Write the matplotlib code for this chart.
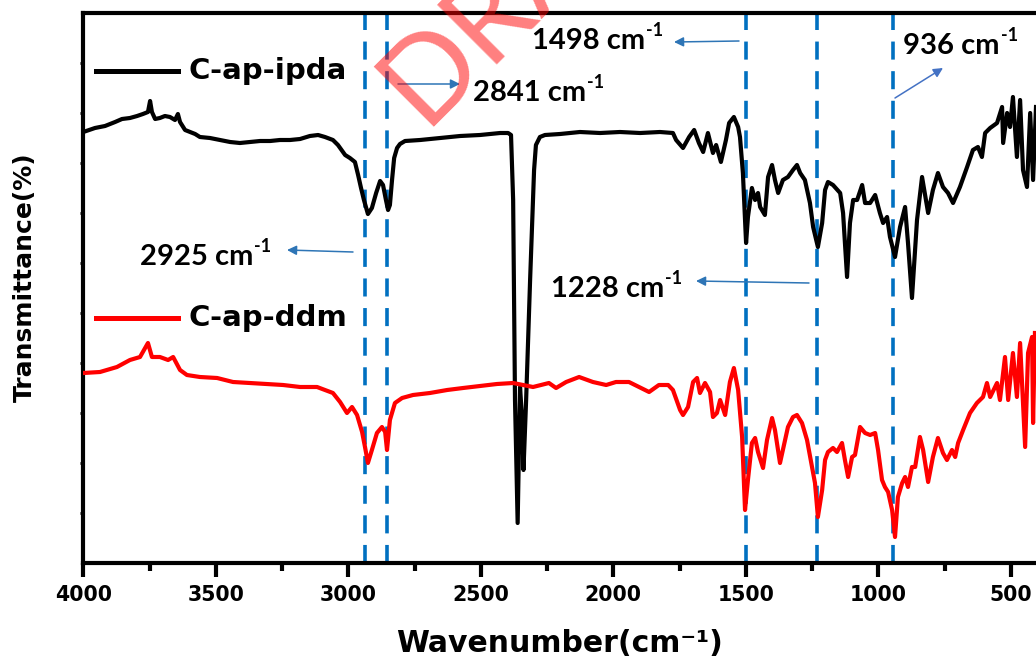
import matplotlib
matplotlib.use("Agg")
import matplotlib.pyplot as plt
from matplotlib.lines import Line2D

# ---------------- data ----------------
wn_ipda = [4000, 3956, 3918, 3880, 3854, 3824, 3797, 3775, 3756, 3748, 3741, 3729, 3711, 3692,
           3673, 3654, 3643, 3635, 3616, 3597, 3578, 3560, 3522, 3484, 3446, 3409, 3371, 3333,
           3295, 3258, 3220, 3182, 3145, 3114, 3088, 3058, 3039, 3012, 2994, 2975, 2963, 2952,
           2941, 2926, 2911, 2895, 2880, 2869, 2858, 2850, 2843, 2835, 2827, 2816, 2805, 2786,
           2729, 2654, 2578, 2503, 2427, 2397, 2386, 2378, 2371, 2361, 2356, 2352, 2344, 2339,
           2329, 2314, 2299, 2292, 2277, 2258, 2201, 2126, 2050, 1975, 1899, 1824, 1775, 1763,
           1737, 1714, 1695, 1677, 1661, 1643, 1624, 1612, 1594, 1575, 1563, 1545, 1529, 1522,
           1511, 1499, 1492, 1477, 1465, 1454, 1446, 1428, 1416, 1401, 1390, 1378, 1360, 1341,
           1322, 1307, 1295, 1277, 1258, 1246, 1228, 1212, 1201, 1190, 1171, 1144, 1133, 1118,
           1107, 1095, 1080, 1061, 1050, 1031, 1012, 994, 982, 967, 956, 937, 918, 899, 888,
           873, 854, 835, 812, 794, 775, 756, 737, 718, 692, 665, 643, 624, 609, 597, 578, 552,
           533, 529, 514, 503, 492, 477, 465, 454, 439, 427, 416, 405]
t_ipda = [86.2, 87.0, 87.4, 88.2, 88.8, 89.0, 89.4, 89.8, 90.2, 92.4, 90.2, 88.8, 89.0, 89.4,
          89.2, 88.6, 89.8, 88.2, 86.6, 86.2, 85.8, 85.2, 85.0, 84.6, 84.2, 84.0, 84.2, 84.4,
          84.4, 84.6, 84.6, 84.8, 85.4, 85.6, 85.2, 84.6, 83.6, 81.6, 81.0, 80.2, 77.6, 75.0,
          72.6, 69.8, 71.0, 74.0, 76.4, 75.6, 72.6, 70.6, 71.6, 76.6, 81.0, 83.0, 83.8, 84.4,
          84.6, 85.0, 85.4, 85.6, 86.0, 86.0, 85.6, 72.6, 32.6, 8.0, 22.6, 35.2, 28.6, 18.6,
          32.6, 56.6, 78.6, 83.6, 85.2, 85.6, 85.8, 86.2, 86.0, 86.2, 86.0, 86.2, 86.0, 84.6,
          83.0, 85.2, 86.6, 84.0, 82.2, 86.0, 82.0, 83.6, 80.2, 84.6, 88.0, 89.2, 87.2, 85.2,
          78.0, 64.0, 69.2, 75.0, 72.6, 74.0, 71.2, 69.6, 77.2, 79.6, 76.6, 74.0, 76.6, 77.2,
          78.6, 79.6, 78.0, 76.6, 72.0, 67.2, 63.2, 68.0, 74.6, 76.2, 75.6, 74.0, 70.0, 57.2,
          68.0, 72.6, 72.6, 75.6, 72.0, 72.0, 73.6, 70.0, 68.0, 69.2, 65.2, 61.2, 67.2, 71.2, 64.0,
          53.0, 68.6, 77.2, 70.0, 74.6, 78.0, 75.2, 74.0, 72.0, 75.2, 79.2, 82.6, 83.2, 81.2, 86.0,
          87.0, 88.0, 91.2, 84.0, 90.0, 87.2, 93.2, 81.2, 92.6, 78.6, 75.2, 90.0, 76.6, 91.2]

wn_ddm = [4000, 3937, 3873, 3824, 3786, 3756, 3741, 3711, 3680, 3661, 3635, 3609, 3560, 3495,
          3435, 3371, 3307, 3246, 3182, 3118, 3058, 3031, 3005, 2986, 2967, 2948, 2937, 2926,
          2911, 2892, 2873, 2861, 2854, 2843, 2824, 2797, 2756, 2692, 2627, 2567, 2503, 2439,
          2378, 2303, 2243, 2216, 2178, 2129, 2077, 2027, 1990, 1941, 1903, 1865, 1828, 1793,
          1775, 1748, 1737, 1718, 1699, 1684, 1673, 1654, 1635, 1624, 1609, 1597, 1578, 1560,
          1545, 1529, 1514, 1503, 1492, 1477, 1465, 1454, 1435, 1420, 1401, 1390, 1371, 1352,
          1341, 1322, 1307, 1288, 1269, 1250, 1239, 1228, 1212, 1201, 1190, 1171, 1156, 1137,
          1126, 1114, 1099, 1088, 1069, 1050, 1031, 1012, 1001, 986, 975, 963, 948, 937, 926,
          910, 899, 888, 873, 861, 843, 831, 812, 794, 775, 756, 741, 722, 710, 699, 680, 654,
          628, 605, 590, 578, 552, 541, 522, 510, 492, 477, 465, 446, 435, 420, 416, 409]
t_ddm = [38.0, 38.2, 39.2, 40.6, 41.2, 44.0, 41.2, 41.2, 40.6, 41.2, 38.6, 37.6, 37.2, 37.0,
         36.2, 36.0, 35.8, 35.6, 35.2, 35.2, 34.0, 32.2, 30.0, 31.2, 29.6, 26.2, 23.2, 20.0,
         22.6, 26.0, 27.2, 26.2, 22.6, 28.6, 32.0, 33.0, 33.6, 34.0, 34.6, 35.0, 35.4, 35.8,
         36.0, 35.2, 36.0, 35.0, 36.2, 37.2, 36.2, 35.6, 36.2, 36.2, 35.2, 34.2, 35.6, 35.6,
         34.6, 30.6, 29.6, 31.2, 36.2, 37.0, 34.0, 36.0, 34.2, 29.2, 30.0, 32.6, 29.6, 36.2,
         39.0, 34.6, 25.2, 10.6, 16.6, 24.0, 25.0, 22.2, 19.0, 24.6, 29.0, 26.6, 20.0, 24.6,
         27.2, 29.2, 29.6, 28.0, 24.6, 19.2, 16.0, 9.2, 14.6, 20.6, 22.2, 23.0, 22.2, 24.0,
         20.6, 17.2, 21.2, 21.6, 27.2, 26.0, 25.6, 26.0, 22.6, 16.6, 15.2, 14.2, 10.6, 5.2, 13.2,
         16.0, 17.2, 15.2, 19.2, 19.2, 25.2, 22.6, 16.2, 21.2, 25.0, 22.0, 20.6, 22.6, 21.2, 24.0,
         26.6, 30.0, 32.0, 33.2, 36.0, 33.2, 36.0, 32.6, 41.2, 32.6, 42.0, 33.2, 44.0, 23.2,
         42.0, 45.2, 28.0, 46.0]

series_names = ["C-ap-ipda", "C-ap-ddm"]
series_colors = ["black", "#FF0000"]

peak_lines = [2937, 2855, 1500, 1230, 943]
peak_labels = ["2925", "2841", "1498", "1228", "936"]

x_ticks = [4000, 3500, 3000, 2500, 2000, 1500, 1000, 500]
x_minor = [3750, 3250, 2750, 2250, 1750, 1250, 750]

# ---------------- figure ----------------
W, H = 1036, 664
fig = plt.figure(figsize=(W / 100, H / 100), dpi=100)
ax = fig.add_axes([83.3 / W, 101 / H, 952.7 / W, 550 / H])

ax.plot(wn_ipda, t_ipda, color=series_colors[0], lw=3.0, solid_joinstyle="round", zorder=3)
ax.plot(wn_ddm, t_ddm, color=series_colors[1], lw=3.0, solid_joinstyle="round", zorder=3)

for p in peak_lines:
    ax.axvline(p, color="#0070C0", lw=2.6, dashes=(5.0, 3.2), zorder=2)

ax.set_xlim(4000, 405)
ax.set_ylim(0, 110)
ax.set_xticks(x_ticks)
ax.set_xticks(x_minor, minor=True)
ax.set_xticklabels([str(t) for t in x_ticks], fontsize=14.8, fontweight="bold",
                   family="DejaVu Sans")
ax.set_yticks([10, 20, 30, 40, 50, 60, 70, 80, 90, 100])
ax.set_yticklabels([])

ax.tick_params(axis="x", which="major", direction="out", length=10, width=3, pad=6,
               top=False)
ax.tick_params(axis="x", which="minor", direction="out", length=6, width=3, top=False)
ax.tick_params(axis="y", which="major", direction="out", length=2, width=2, right=False)

for side in ["left", "bottom", "top"]:
    ax.spines[side].set_linewidth(3)
ax.spines["right"].set_visible(False)

ax.set_xlabel("Wavenumber(cm\u207b\u00b9)", fontsize=21.5, fontweight="bold",
              family="DejaVu Sans", va="center")
ax.xaxis.set_label_coords(0.5, -0.147)
ax.set_ylabel("Transmittance(%)", fontsize=18, fontweight="bold", family="DejaVu Sans",
              va="center")
ax.yaxis.set_label_coords(-0.061, 0.52)

# legend (manual, two separate entries)
leg_y = [(563 - 71) / 550, (563 - 318) / 550]
for name, col, yy in zip(series_names, series_colors, leg_y):
    ax.add_line(Line2D([0.0133, 0.0994], [yy, yy], transform=ax.transAxes, color=col,
                       lw=3.6, clip_on=False))
    ax.text(0.1099, yy, name, transform=ax.transAxes, fontsize=21, fontweight="bold",
            family="DejaVu Sans", va="center", ha="left")

# annotations (figure pixel coordinates)
ann = {
    "2925": dict(text=(140, 399), tail=(353, 412), head=(287, 414), c="#2E75B6"),
    "2841": dict(text=(473, 563), tail=(398, 580), head=(460, 580), c="#2E75B6"),
    "1498": dict(text=(532, 615), tail=(739, 623), head=(674, 622), c="#2E75B6"),
    "1228": dict(text=(551, 367), tail=(809, 381), head=(696, 383), c="#2E75B6"),
    "936": dict(text=(903, 610), tail=(895, 566), head=(943, 596), c="#4472C4"),
}
renderer = fig.canvas.get_renderer()
for lab in peak_labels:
    a = ann[lab]
    t = fig.text(a["text"][0] / W, a["text"][1] / H, lab + " cm",
                 fontsize=21, fontweight="bold", family="Lato", ha="left", va="baseline")
    bb = t.get_window_extent(renderer)
    fig.text((bb.x1 + 1) / W, (a["text"][1] + 13) / H, "-1", fontsize=13,
             fontweight="bold", family="Lato", ha="left", va="baseline")
    ax.annotate("", xy=a["head"], xycoords="figure pixels", xytext=a["tail"],
                textcoords="figure pixels",
                arrowprops=dict(arrowstyle="-|>", color=a["c"], lw=1.1, mutation_scale=14,
                                shrinkA=0, shrinkB=0), annotation_clip=False)

# DRAFT watermark
fig.text(423 / W, (H - 127) / H, "DRAFT", fontsize=85, family="Lato", color="red",
         alpha=0.5, rotation=45, rotation_mode="anchor", ha="left", va="baseline", zorder=10)

fig.savefig("out.png", dpi=100)
